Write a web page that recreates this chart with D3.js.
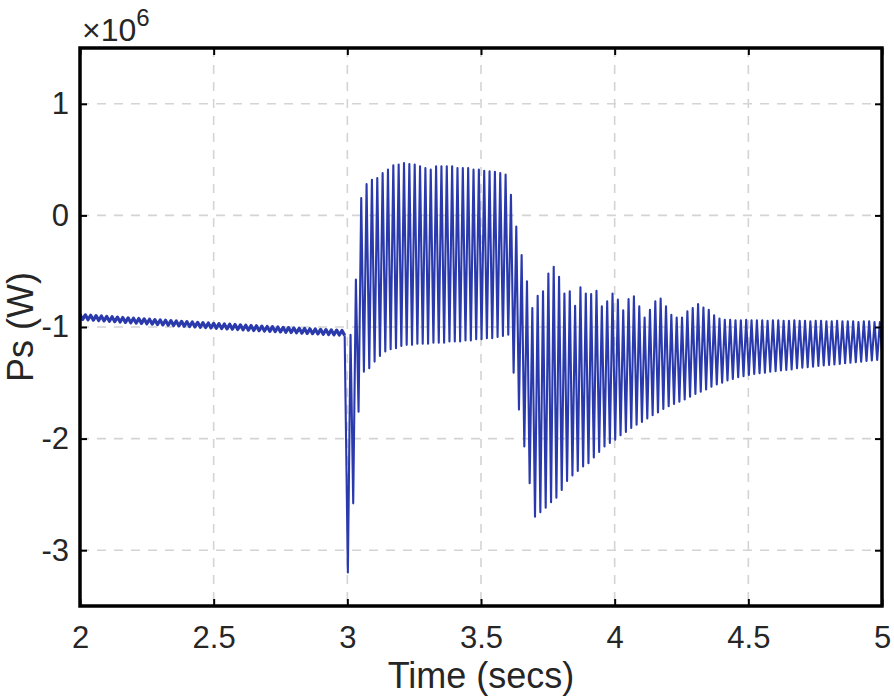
<!DOCTYPE html>
<html>
<head>
<meta charset="utf-8">
<script src="https://cdnjs.cloudflare.com/ajax/libs/d3/7.8.5/d3.min.js"></script>
<style>
  html, body { margin: 0; padding: 0; background: #fff; }
  svg { display: block; font-family: "Liberation Sans", Arial, sans-serif; }
</style>
</head>
<body>
<svg></svg>
<script>
// Axis ticks
const xTicks = [2, 2.5, 3, 3.5, 4, 4.5, 5];
const yTicks = [-3, -2, -1, 0, 1];

// Sampling of the oscillation (one peak + one trough per cycle)
const cyclePeriod = 0.02;
const preStart = 2.0;
const postStart = 3.002;

// Pre-fault Ps (x 1e6 W): peaks / troughs per cycle
const prePeak = [-0.888, -0.891, -0.895, -0.898, -0.901, -0.905, -0.908, -0.911, -0.915, -0.918,
    -0.921, -0.924, -0.927, -0.930, -0.934, -0.937, -0.940, -0.943, -0.946, -0.949,
    -0.952, -0.955, -0.958, -0.961, -0.964, -0.967, -0.970, -0.973, -0.975, -0.978,
    -0.981, -0.984, -0.987, -0.989, -0.992, -0.995, -0.997, -1.000, -1.003, -1.005,
    -1.008, -1.011, -1.013, -1.016, -1.018, -1.021, -1.023, -1.026, -1.028, -1.031];
const preTrough = [-0.932, -0.935, -0.939, -0.942, -0.945, -0.949, -0.952, -0.955, -0.959, -0.962,
    -0.965, -0.968, -0.971, -0.974, -0.978, -0.981, -0.984, -0.987, -0.990, -0.993,
    -0.996, -0.999, -1.002, -1.005, -1.008, -1.011, -1.014, -1.017, -1.019, -1.022,
    -1.025, -1.028, -1.031, -1.033, -1.036, -1.039, -1.041, -1.044, -1.047, -1.049,
    -1.052, -1.055, -1.057, -1.060, -1.062, -1.065, -1.067, -1.070, -1.072, -1.075];

// Post-fault Ps (x 1e6 W): troughs / peaks per cycle
const postTrough = [-3.20, -2.58, -1.76, -1.40, -1.37, -1.31, -1.26, -1.22, -1.20, -1.19,
    -1.17, -1.16, -1.16, -1.15, -1.15, -1.15, -1.14, -1.14, -1.14, -1.13,
    -1.13, -1.13, -1.12, -1.12, -1.11, -1.11, -1.10, -1.10, -1.09, -1.08,
    -1.07, -1.41, -1.74, -2.07, -2.40, -2.70, -2.66, -2.62, -2.57, -2.53,
    -2.46, -2.38, -2.33, -2.29, -2.25, -2.22, -2.17, -2.12, -2.07, -2.04,
    -2.01, -1.97, -1.94, -1.905, -1.875, -1.85, -1.82, -1.79, -1.765, -1.735,
    -1.71, -1.69, -1.67, -1.65, -1.625, -1.60, -1.58, -1.56, -1.535, -1.515,
    -1.50, -1.48, -1.465, -1.45, -1.44, -1.43, -1.42, -1.415, -1.41, -1.40,
    -1.395, -1.39, -1.385, -1.38, -1.37, -1.365, -1.36, -1.355, -1.35, -1.345,
    -1.34, -1.335, -1.33, -1.325, -1.32, -1.315, -1.31, -1.305, -1.30, -1.295, -1.29];
const postPeak = [-1.07, -0.575, 0.155, 0.28, 0.32, 0.335, 0.38, 0.41, 0.45, 0.455,
    0.47, 0.46, 0.455, 0.44, 0.425, 0.41, 0.44, 0.44, 0.44, 0.44,
    0.425, 0.425, 0.425, 0.41, 0.41, 0.40, 0.395, 0.39, 0.38, 0.365,
    0.185, -0.10, -0.355, -0.59, -0.83, -0.72, -0.68, -0.52, -0.46, -0.55,
    -0.70, -0.68, -0.81, -0.645, -0.70, -0.705, -0.675, -0.815, -0.77, -0.70,
    -0.755, -0.85, -0.75, -0.725, -0.815, -0.915, -0.845, -0.77, -0.745, -0.815,
    -0.89, -0.915, -0.915, -0.86, -0.83, -0.795, -0.825, -0.845, -0.895, -0.925,
    -0.935, -0.935, -0.94, -0.94, -0.935, -0.94, -0.94, -0.94, -0.945, -0.94,
    -0.94, -0.945, -0.945, -0.94, -0.945, -0.945, -0.95, -0.945, -0.945, -0.95,
    -0.95, -0.945, -0.95, -0.95, -0.95, -0.955, -0.95, -0.95, -0.955, -0.955];

const width = 894;
const height = 700;
const margin = { top: 48, right: 12, bottom: 94, left: 80 };
const innerW = width - margin.left - margin.right;
const innerH = height - margin.top - margin.bottom;
const lineColor = "#2a3aad";

const svg = d3.select("svg")
    .attr("width", width)
    .attr("height", height);

const g = svg.append("g")
    .attr("transform", `translate(${margin.left},${margin.top})`);

const x = d3.scaleLinear().domain([2, 5]).range([0, innerW]);
const y = d3.scaleLinear().domain([-3.5, 1.5]).range([innerH, 0]);

// Build the waveform from the per-cycle extremes
const prePoints = [];
prePeak.forEach((v, k) => {
    prePoints.push([preStart + k * cyclePeriod, v]);
    prePoints.push([preStart + k * cyclePeriod + cyclePeriod / 2, preTrough[k]]);
});
const postPoints = [prePoints[prePoints.length - 1]];
postTrough.forEach((v, k) => {
    postPoints.push([postStart + k * cyclePeriod, v]);
    if (k < postPeak.length) {
        postPoints.push([postStart + k * cyclePeriod + cyclePeriod / 2, postPeak[k]]);
    }
});

// Grid
const gridStyle = sel => sel
    .style("stroke", "#d4d4d4")
    .style("stroke-width", 1.6)
    .style("stroke-dasharray", "9,8");

g.selectAll(".vgrid")
    .data(xTicks.filter(d => d > 2 && d < 5))
    .enter().append("line")
    .attr("x1", d => x(d)).attr("x2", d => x(d))
    .attr("y1", 0).attr("y2", innerH)
    .call(gridStyle);

g.selectAll(".hgrid")
    .data(yTicks)
    .enter().append("line")
    .attr("x1", 0).attr("x2", innerW)
    .attr("y1", d => y(d)).attr("y2", d => y(d))
    .call(gridStyle);

// Signal
svg.append("defs").append("clipPath").attr("id", "clip")
    .append("rect").attr("width", innerW).attr("height", innerH);

const line = d3.line().x(d => x(d[0])).y(d => y(d[1]));

g.append("path")
    .datum(prePoints)
    .attr("clip-path", "url(#clip)")
    .attr("d", line)
    .style("fill", "none")
    .style("stroke", lineColor)
    .style("stroke-width", 3.2)
    .style("stroke-linejoin", "round");

g.append("path")
    .datum(postPoints)
    .attr("clip-path", "url(#clip)")
    .attr("d", line)
    .style("fill", "none")
    .style("stroke", lineColor)
    .style("stroke-width", 2.1)
    .style("stroke-linejoin", "round");

// Axes (MATLAB box style, inward ticks on all sides)
const tickLen = 7;
const axisBottom = d3.axisBottom(x).tickValues(xTicks).tickSize(-tickLen).tickPadding(20)
    .tickFormat(d3.format("~g"));
const axisLeft = d3.axisLeft(y).tickValues(yTicks).tickSize(-tickLen).tickPadding(11)
    .tickFormat(d => d < 0 ? "-" + Math.abs(d) : String(d));
const axisTop = d3.axisTop(x).tickValues(xTicks).tickSize(-tickLen).tickFormat("");
const axisRight = d3.axisRight(y).tickValues(yTicks).tickSize(-tickLen).tickFormat("");

const styleAxis = sel => {
    sel.select(".domain").remove();
    sel.selectAll(".tick line").style("stroke", "#000").style("stroke-width", 2);
    sel.selectAll(".tick text")
        .style("font-size", "31px")
        .style("fill", "#262626")
        .style("font-family", "'Liberation Sans', Arial, sans-serif");
};

g.append("g").attr("transform", `translate(0,${innerH})`).call(axisBottom).call(styleAxis);
g.append("g").call(axisLeft).call(styleAxis);
g.append("g").call(axisTop).call(styleAxis);
g.append("g").attr("transform", `translate(${innerW},0)`).call(axisRight).call(styleAxis);

g.append("rect")
    .attr("width", innerW)
    .attr("height", innerH)
    .style("fill", "none")
    .style("stroke", "#000")
    .style("stroke-width", 3.5);

// Labels
svg.append("text")
    .attr("x", margin.left + innerW / 2)
    .attr("y", 688)
    .attr("text-anchor", "middle")
    .style("font-size", "36px")
    .style("fill", "#262626")
    .text("Time (secs)");

svg.append("text")
    .attr("transform", `translate(33,${margin.top + innerH / 2}) rotate(-90)`)
    .attr("text-anchor", "middle")
    .style("font-size", "36px")
    .style("fill", "#262626")
    .text("Ps (W)");

const expo = svg.append("text")
    .attr("x", 82)
    .attr("y", 41)
    .style("font-size", "32px")
    .style("fill", "#262626");
expo.append("tspan").text("\u00d710");
expo.append("tspan").attr("dy", -15).style("font-size", "24px").text("6");
</script>
</body>
</html>
